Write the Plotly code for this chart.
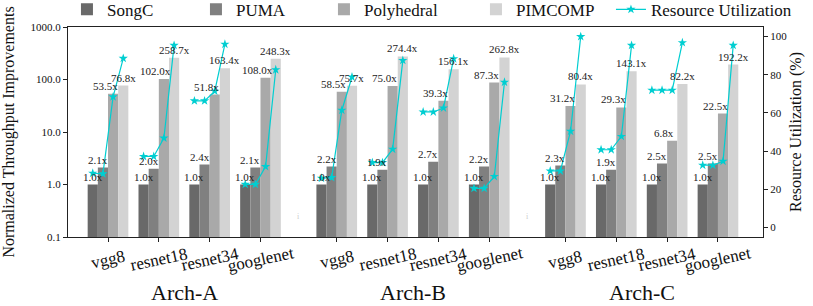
import math
import plotly.graph_objects as go

# ---------------- data ----------------
archs = ["Arch-A", "Arch-B", "Arch-C"]
models = ["vgg8", "resnet18", "resnet34", "googlenet"]
methods = ["SongC", "PUMA", "Polyhedral", "PIMCOMP"]

# throughput improvement, order: Arch-A (vgg8, resnet18, resnet34, googlenet), Arch-B (...), Arch-C (...)
songc_speedup = [1.0, 1.0, 1.0, 1.0, 1.0, 1.0, 1.0, 1.0, 1.0, 1.0, 1.0, 1.0]
puma_speedup = [2.1, 2.0, 2.4, 2.1, 2.2, 1.9, 2.7, 2.2, 2.3, 1.9, 2.5, 2.5]
poly_speedup = [53.5, 102.0, 51.8, 108.0, 58.5, 75.0, 39.3, 87.3, 31.2, 29.3, 6.8, 22.5]
pimcomp_speedup = [76.8, 258.7, 163.4, 248.3, 75.7, 274.4, 156.1, 262.8, 80.4, 143.1, 82.2, 192.2]

# resource utilization (%) per method
util_songc = [28.4, 37.2, 66.3, 22.6, 25.8, 34.0, 60.5, 20.5, 29.6, 40.7, 71.9, 32.6]
util_puma = [28.1, 37.2, 66.3, 22.6, 26.1, 34.0, 60.5, 20.5, 29.6, 40.7, 71.9, 32.6]
util_poly = [68.4, 46.8, 71.4, 31.9, 61.4, 41.0, 62.6, 26.7, 50.4, 47.7, 71.9, 34.7]
util_pimcomp = [88.6, 95.4, 96.0, 82.6, 78.8, 87.5, 88.4, 76.1, 100.0, 95.4, 96.8, 95.4]

y_ticks = [0.1, 1, 10, 100, 1000]
y_ticktext = ["0.1", "1.0", "10.0", "100.0", "1000.0"]
y2_ticks = [0, 20, 40, 60, 80, 100]

# ---------------- style ----------------
bar_colors = ["#696969", "#808080", "#a9a9a9", "#d3d3d3"]
line_color = "#00CED1"
FONT = "Liberation Serif, Times New Roman, serif"
group_start = [0.0, 4.5, 9.0]
bar_w = 0.2
offsets = [-0.3, -0.1, 0.1, 0.3]
label_xshift = [0, -5, -8, 0]
legend_widths = [84, 83, 107, 90]

speedups = [songc_speedup, puma_speedup, poly_speedup, pimcomp_speedup]
utils = [util_songc, util_puma, util_poly, util_pimcomp]

model_x = []
model_names = []
for g, start in enumerate(group_start):
    for i, m in enumerate(models):
        model_x.append(start + i)
        model_names.append(m)

fig = go.Figure()

for j, meth in enumerate(methods):
    fig.add_trace(go.Bar(
        x=[mx + offsets[j] for mx in model_x],
        y=speedups[j],
        width=bar_w,
        name=meth,
        marker=dict(color=bar_colors[j], line=dict(width=0)),
        legendwidth=legend_widths[j],
    ))

lx, ly = [], []
for k, mx in enumerate(model_x):
    for j in range(4):
        lx.append(mx + offsets[j])
        ly.append(utils[j][k])
    lx.append(None)
    ly.append(None)

fig.add_trace(go.Scatter(
    x=lx, y=ly, yaxis="y2", mode="lines+markers", name="Resource Utilization",
    line=dict(color=line_color, width=1.2),
    marker=dict(symbol="star", size=7, color=line_color),
    connectgaps=False,
))

annotations = []
for j in range(4):
    for k, mx in enumerate(model_x):
        v = speedups[j][k]
        annotations.append(dict(
            x=mx + offsets[j], y=math.log10(v), xref="x", yref="y",
            text=f"{v:.1f}x", showarrow=False, yanchor="bottom", xanchor="center",
            xshift=label_xshift[j], yshift=0,
            font=dict(size=11, color="#222", family=FONT),
        ))

for k, mx in enumerate(model_x):
    annotations.append(dict(
        x=mx, y=-0.105, xref="x", yref="paper", text=model_names[k],
        showarrow=False, textangle=-12, xanchor="center", yanchor="middle",
        font=dict(size=17, color="#111", family=FONT),
    ))

for g, a in enumerate(archs):
    annotations.append(dict(
        x=group_start[g] + 1.5, y=-0.262, xref="x", yref="paper", text=a,
        showarrow=False, xanchor="center", yanchor="middle",
        font=dict(size=22, color="#111", family=FONT),
    ))

for g in range(2):
    annotations.append(dict(
        x=(group_start[g] + 3 + group_start[g + 1]) / 2, y=0.068, xref="x", yref="paper",
        text="i", showarrow=False, font=dict(size=8, color="#cccccc", family=FONT),
    ))

fig.update_layout(
    width=813, height=306,
    margin=dict(l=68, r=50, t=27, b=69, autoexpand=False),
    paper_bgcolor="white", plot_bgcolor="white",
    font=dict(family=FONT, color="#111"),
    barmode="overlay",
    showlegend=True,
    legend=dict(orientation="h", xref="paper", yref="paper",
                x=-0.0015, xanchor="left", y=1.082, yanchor="middle",
                font=dict(size=17, family=FONT), bgcolor="rgba(0,0,0,0)",
                traceorder="normal"),
    xaxis=dict(range=[-0.787, 12.886], tickvals=model_x, ticktext=["" for _ in model_x],
               ticks="outside", ticklen=4, tickcolor="#222", showline=True, linecolor="#222",
               linewidth=1, mirror=True, showgrid=False, zeroline=False),
    yaxis=dict(type="log", range=[-1, 3], tickvals=y_ticks, ticktext=y_ticktext,
               ticks="outside", ticklen=4, tickcolor="#222", showline=True, linecolor="#222",
               linewidth=1, showgrid=False, zeroline=False,
               tickfont=dict(size=11, family=FONT),
               title=dict(text="Normalized Throughput Improvements", standoff=12,
                          font=dict(size=16, family=FONT))),
    yaxis2=dict(overlaying="y", side="right", range=[-5, 105], tickvals=y2_ticks,
                ticks="outside", ticklen=4, tickcolor="#222", showline=True, linecolor="#222",
                linewidth=1, showgrid=False, zeroline=False,
                tickfont=dict(size=11, family=FONT),
                title=dict(text="Resource Utilization (%)", standoff=3,
                           font=dict(size=16, family=FONT))),
    annotations=annotations,
)

fig.write_html("out.html", config={"displayModeBar": False},
               post_script="document.body.style.margin='0px';")
